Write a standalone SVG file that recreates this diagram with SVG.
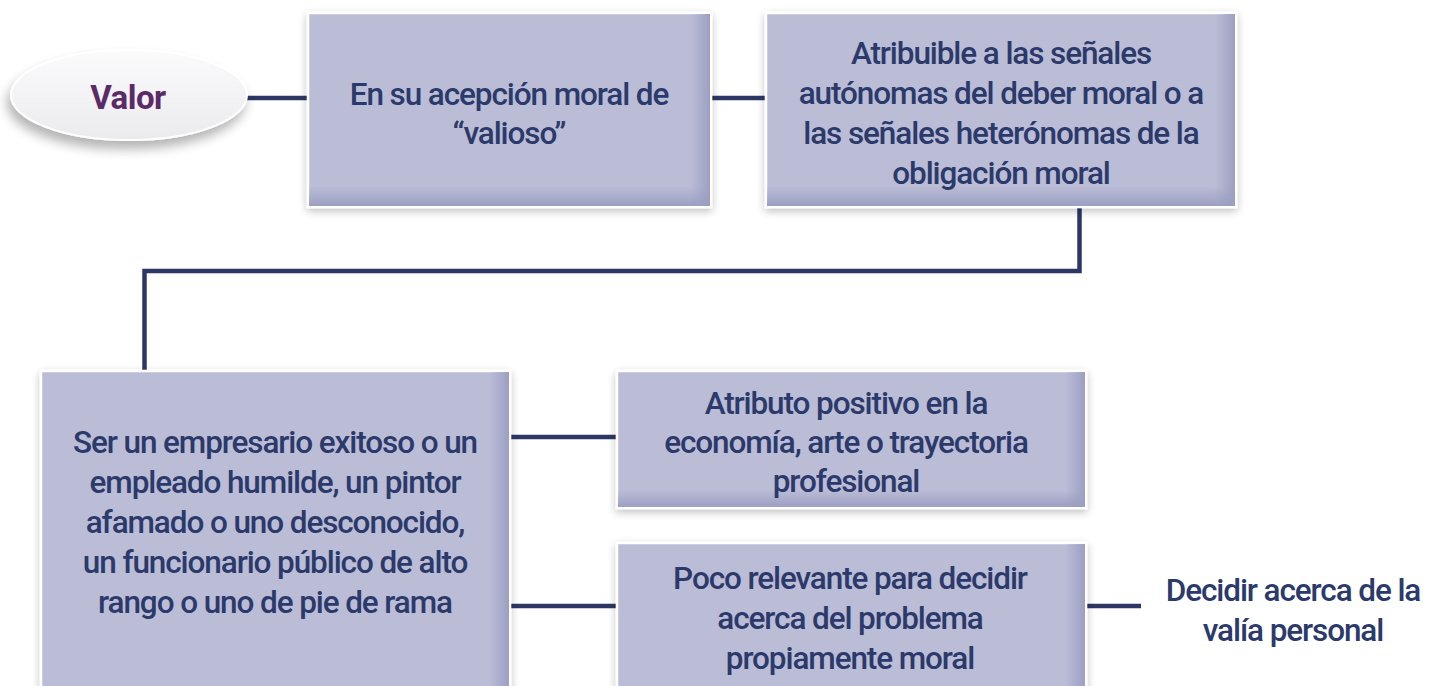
<svg xmlns="http://www.w3.org/2000/svg" width="1429" height="686" viewBox="0 0 1429 686">
<defs>
<filter id="sh" x="-10%" y="-10%" width="125%" height="130%">
<feGaussianBlur in="SourceAlpha" stdDeviation="4"/>
<feOffset dx="0" dy="3" result="b"/>
<feComponentTransfer><feFuncA type="linear" slope="0.25"/></feComponentTransfer>
<feMerge><feMergeNode/><feMergeNode in="SourceGraphic"/></feMerge>
</filter>
<filter id="esh" x="-20%" y="-30%" width="140%" height="170%">
<feGaussianBlur in="SourceAlpha" stdDeviation="6"/>
<feOffset dx="-3" dy="8" result="b"/>
<feComponentTransfer><feFuncA type="linear" slope="0.3"/></feComponentTransfer>
<feMerge><feMergeNode/><feMergeNode in="SourceGraphic"/></feMerge>
</filter>
<linearGradient id="gr" x1="0" y1="0" x2="1" y2="0">
<stop offset="0" stop-color="#9c9fc2" stop-opacity="0"/>
<stop offset="1" stop-color="#9c9fc2" stop-opacity="1"/>
</linearGradient>
<linearGradient id="gb" x1="0" y1="0" x2="0" y2="1">
<stop offset="0" stop-color="#9c9fc2" stop-opacity="0"/>
<stop offset="1" stop-color="#9c9fc2" stop-opacity="1"/>
</linearGradient>
<linearGradient id="eg" x1="0" y1="0" x2="0" y2="1">
<stop offset="0" stop-color="#fbfbfc"/>
<stop offset="1" stop-color="#ebebee"/>
</linearGradient>
</defs>
<style>
.box{fill:#bbbdd6;stroke:#ffffff;stroke-width:2.5}
.t{font-family:Roboto,"Liberation Sans",sans-serif;font-size:31.5px;font-weight:500;fill:#2b3a6b;text-anchor:middle;letter-spacing:-1.1px}
.c{fill:none;stroke:#2d3766;stroke-width:4.5}
</style>
<rect width="1429" height="686" fill="#ffffff"/>
<g id="connectors">
<line class="c" x1="247" y1="98" x2="310" y2="98"/>
<line class="c" x1="711" y1="98" x2="767" y2="98"/>
<polyline class="c" points="1079.5,207 1079.5,271 144.5,271 144.5,371" stroke-linejoin="miter"/>
<line class="c" x1="510" y1="437" x2="617" y2="437"/>
<line class="c" x1="510" y1="606" x2="617" y2="606"/>
<line class="c" x1="1086" y1="606" x2="1141" y2="606"/>
</g>
<g id="valor">
<ellipse cx="129" cy="95" rx="118" ry="45" fill="url(#eg)" stroke="#ffffff" stroke-width="2" filter="url(#esh)"/>
<text x="128" y="109" style="font-family:Roboto,'Liberation Sans',sans-serif;font-size:33px;font-weight:bold;fill:#5b2a68;text-anchor:middle;letter-spacing:-0.5px">Valor</text>
</g>
<g id="n1">
<g filter="url(#sh)"><rect class="box" x="308" y="13" width="403" height="194"/></g>
<rect x="690" y="14" width="20" height="192" fill="url(#gr)"/>
<rect x="309" y="186" width="401" height="20" fill="url(#gb)"/>
<text class="t" x="509" y="105">En su acepción moral de</text>
<text class="t" x="509" y="144">“valioso”</text>
</g>
<g id="n2">
<g filter="url(#sh)"><rect class="box" x="766" y="13" width="470" height="194"/></g>
<rect x="1215" y="14" width="20" height="192" fill="url(#gr)"/>
<rect x="767" y="186" width="468" height="20" fill="url(#gb)"/>
<text class="t" x="1001" y="64">Atribuible a las señales</text>
<text class="t" x="1001" y="104">autónomas del deber moral o a</text>
<text class="t" x="1001" y="144">las señales heterónomas de la</text>
<text class="t" x="1001" y="184">obligación moral</text>
</g>
<g id="n3">
<g filter="url(#sh)"><rect class="box" x="41" y="371" width="469" height="330"/></g>
<rect x="489" y="372" width="20" height="314" fill="url(#gr)"/>
<text class="t" x="275" y="453">Ser un empresario exitoso o un</text>
<text class="t" x="275" y="493">empleado humilde, un pintor</text>
<text class="t" x="275" y="533">afamado o uno desconocido,</text>
<text class="t" x="275" y="573">un funcionario público de alto</text>
<text class="t" x="275" y="613">rango o uno de pie de rama</text>
</g>
<g id="n4">
<g filter="url(#sh)"><rect class="box" x="617" y="371" width="469" height="137"/></g>
<rect x="1065" y="372" width="20" height="135" fill="url(#gr)"/>
<rect x="618" y="490" width="467" height="17" fill="url(#gb)"/>
<text class="t" x="846" y="414">Atributo positivo en la</text>
<text class="t" x="846" y="453">economía, arte o trayectoria</text>
<text class="t" x="846" y="492">profesional</text>
</g>
<g id="n5">
<g filter="url(#sh)"><rect class="box" x="617" y="543" width="469" height="160"/></g>
<rect x="1065" y="544" width="20" height="142" fill="url(#gr)"/>
<text class="t" x="850" y="589">Poco relevante para decidir</text>
<text class="t" x="850" y="629">acerca del problema</text>
<text class="t" x="850" y="669">propiamente moral</text>
</g>
<g id="n6">
<text class="t" x="1293" y="601">Decidir acerca de la</text>
<text class="t" x="1293" y="641">valía personal</text>
</g>
</svg>
